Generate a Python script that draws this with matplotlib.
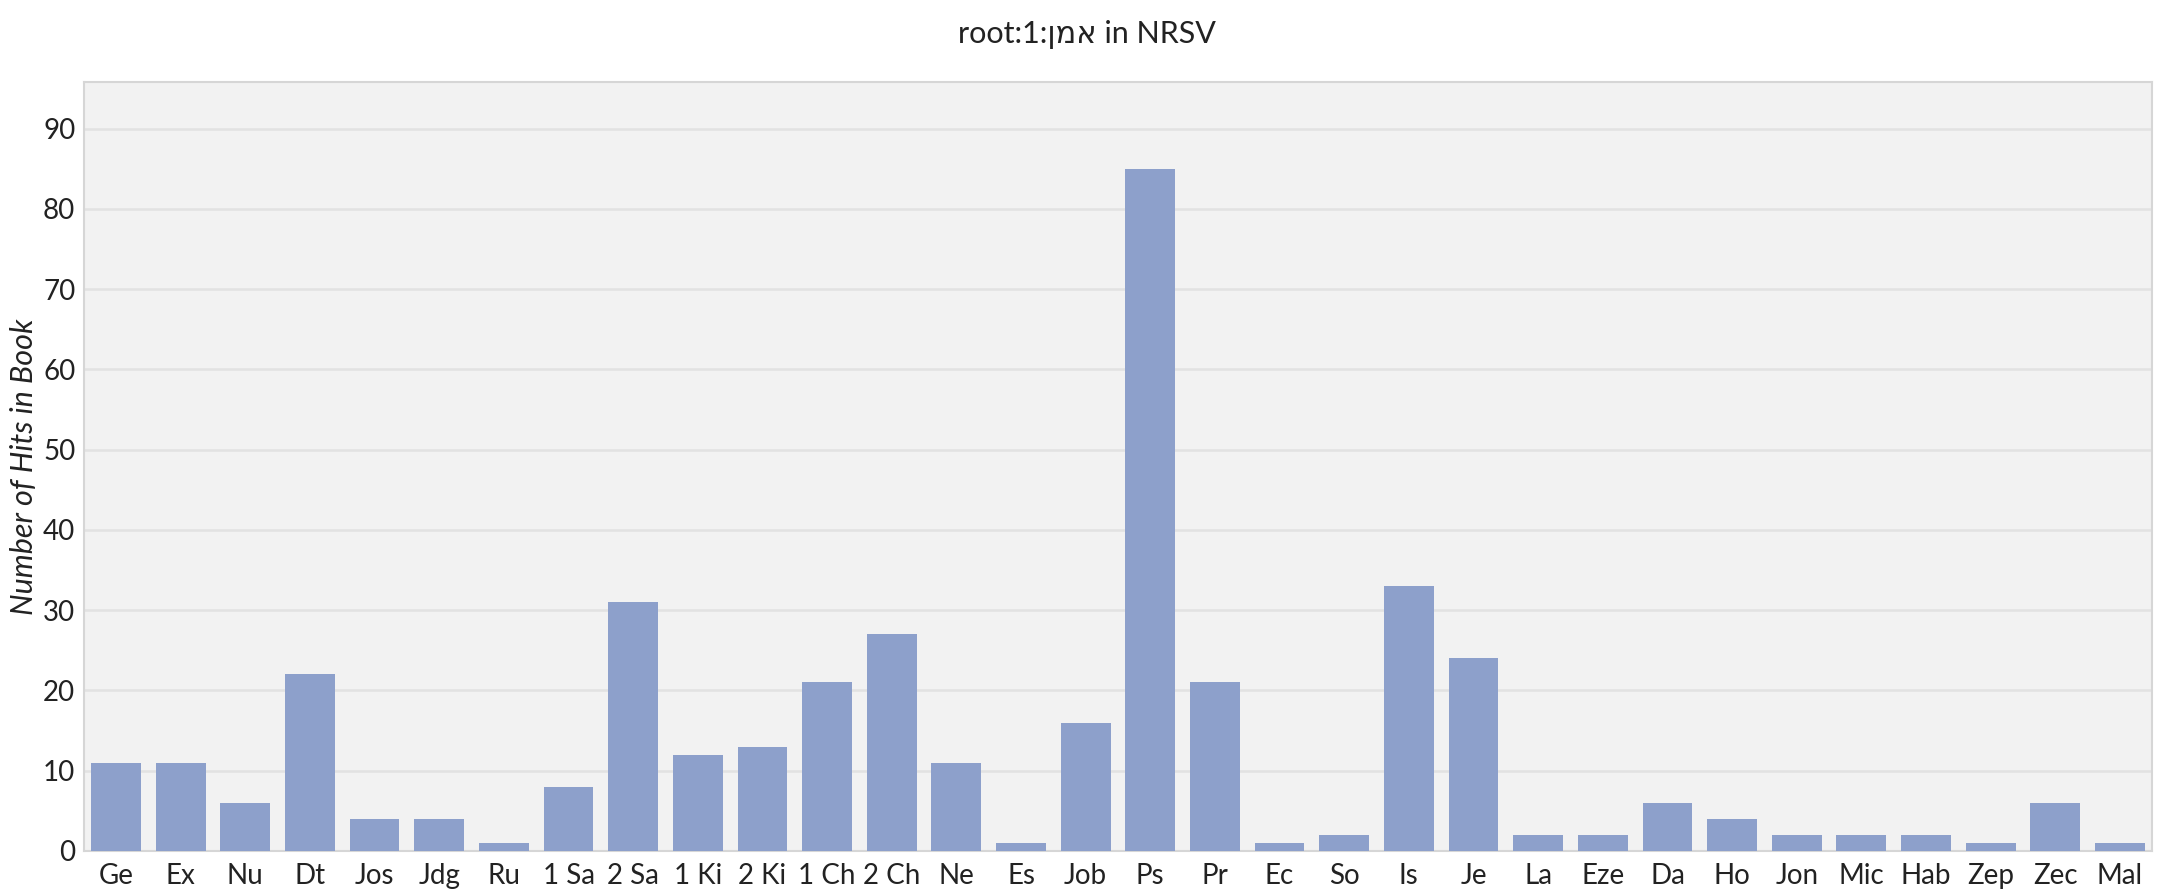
import matplotlib
matplotlib.use("Agg")
import matplotlib.pyplot as plt

books = ["Ge", "Ex", "Nu", "Dt", "Jos", "Jdg", "Ru", "1 Sa", "2 Sa", "1 Ki", "2 Ki",
         "1 Ch", "2 Ch", "Ne", "Es", "Job", "Ps", "Pr", "Ec", "So", "Is", "Je", "La",
         "Eze", "Da", "Ho", "Jon", "Mic", "Hab", "Zep", "Zec", "Mal"]
hits = [11, 11, 6, 22, 4, 4, 1, 8, 31, 12, 13,
        21, 27, 11, 1, 16, 85, 21, 1, 2, 33, 24, 2,
        2, 6, 4, 2, 2, 2, 1, 6, 1]
yticks = [0, 10, 20, 30, 40, 50, 60, 70, 80, 90]

# matplotlib has no bidi support, so put the Hebrew root in visual order
root = "אמן"
title = "root:1:" + root[::-1] + " in NRSV"

plt.rcParams['font.family'] = ['Lato', 'DejaVu Sans']

fig = plt.figure(figsize=(21.74, 8.92), dpi=100)
ax = fig.add_axes([0.0385, 0.046, 0.9515, 0.862])
ax.set_facecolor("#f2f2f2")

x = list(range(len(books)))
ax.bar(x, hits, width=0.77, color="#8da0cb", zorder=3)

ax.set_xlim(-0.5, len(books) - 0.5)
ax.set_ylim(0, 95.8)
ax.set_yticks(yticks)
ax.set_xticks(x)
ax.set_xticklabels(books)
ax.tick_params(axis="both", length=0, labelsize=20, colors="#222222")
ax.tick_params(axis="x", pad=9)
ax.tick_params(axis="y", pad=6)
ax.grid(axis="y", color="#e2e2e2", linewidth=1.8, zorder=0)
for s in ax.spines.values():
    s.set_color("#d6d6d6")
    s.set_linewidth(1.5)

ax.set_ylabel("Number of Hits in Book", fontsize=22, style="italic", color="#222222",
              labelpad=4)
fig.suptitle(title, fontsize=22, color="#222222", y=0.978,
             family=['Lato', 'DejaVu Sans'])

fig.savefig("out.png", dpi=100)
